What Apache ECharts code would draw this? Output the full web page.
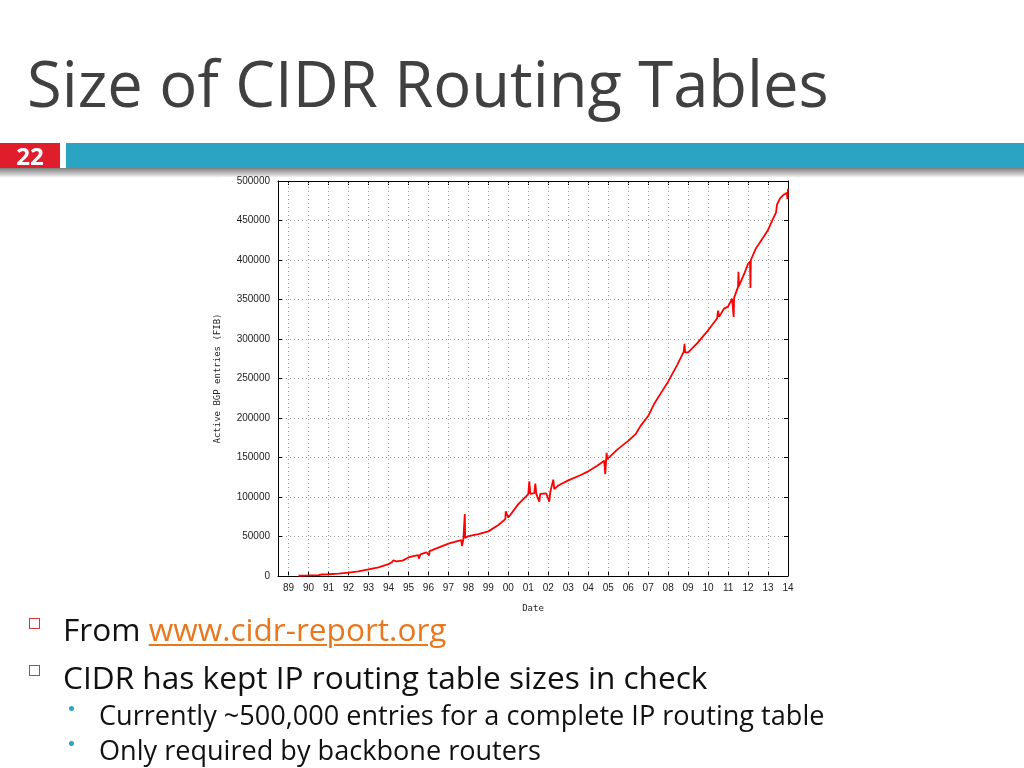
<!DOCTYPE html>
<html>
<head>
<meta charset="utf-8">
<script src="https://cdn.jsdelivr.net/npm/echarts@6/dist/echarts.min.js"></script>
<style>
  html, body { margin:0; padding:0; background:#fff; }
  #page { position:relative; width:1024px; height:768px; overflow:hidden; background:#fff; font-family:"Open Sans","Noto Sans",sans-serif; }
  #chart { position:absolute; left:0; top:0; width:1024px; height:768px; z-index:2; }
  .abs { position:absolute; white-space:nowrap; }
  #title { left:27px; top:51px; font-size:63.3px; line-height:63px; color:#404040; z-index:3; }
  #num { left:0; top:143px; width:60px; height:25px; background:#e01e2b; color:#fff; font-weight:bold; font-size:24px; line-height:26px; text-align:center; z-index:3; }
  #bar { left:66px; top:143px; width:958px; height:25px; background:#2ba3c2; z-index:3; }
  #shadow { left:0; top:168px; width:1024px; height:10px; background:linear-gradient(#7d7d7d,#c8c8c8 60%,#fff); z-index:1; }
  #imgbg { left:218px; top:177px; width:577px; height:436px; background:#fff; z-index:1; }
  .b1 { font-size:31.6px; line-height:31px; color:#111; z-index:3; }
  .b2 { font-size:27.1px; line-height:27px; color:#111; z-index:3; }
  .sq { width:9px; height:9px; border:1.6px solid #e0303a; z-index:3; }
  .dot { width:5px; height:5px; border-radius:50%; background:#2ba3c2; z-index:3; }
  a { color:#e8771e; text-decoration:underline; text-decoration-thickness:1.5px; text-underline-offset:3px; }
</style>
</head>
<body>
<div id="page">
  <div id="shadow" class="abs"></div>
  <div id="imgbg" class="abs"></div>
  <div id="chart"></div>
  <div id="title" class="abs">Size of CIDR Routing Tables</div>
  <div id="num" class="abs">22</div>
  <div id="bar" class="abs"></div>
  <div class="abs sq" style="left:29px;top:618px;"></div>
  <div class="abs b1" style="left:63px;top:613px;">From <a>www.cidr-report.org</a></div>
  <div class="abs sq" style="left:29px;top:665px;"></div>
  <div class="abs b1" style="left:63px;top:661px;">CIDR has kept IP routing table sizes in check</div>
  <div class="abs dot" style="left:69px;top:706px;"></div>
  <div class="abs b2" style="left:99px;top:701px;">Currently ~500,000 entries for a complete IP routing table</div>
  <div class="abs dot" style="left:69px;top:741px;"></div>
  <div class="abs b2" style="left:99px;top:736px;">Only required by backbone routers</div>
</div>
<script>
// Data
const dates = [1989.5,1990.0,1990.5,1990.65,1991.0,1991.5,1992.0,1992.5,1993.0,1993.5,1994.0,1994.15,1994.25,1994.4,1994.7,
  1995.0,1995.3,1995.5,1995.52,1995.6,1995.9,1996.0,1996.03,1996.06,1996.5,1997.0,1997.5,1997.65,1997.68,1997.75,1997.8,1997.82,1997.84,1998.0,1998.5,1999.0,1999.5,
  1999.85,1999.87,2000.0,2000.5,2000.9,2001.0,2001.05,2001.1,2001.3,2001.35,2001.4,2001.55,2001.6,2001.9,2002.0,2002.05,2002.1,2002.25,2002.3,2002.5,
  2003.0,2003.6,2004.0,2004.45,2004.8,2004.85,2004.9,2004.92,2004.95,2005.0,2005.45,2006.0,2006.37,2006.62,2007.0,2007.28,2007.7,2008.0,2008.45,
  2008.78,2008.82,2008.85,2009.0,2009.45,2010.0,2010.45,2010.5,2010.55,2010.8,2011.0,2011.2,2011.28,2011.3,2011.5,2011.52,2011.54,2011.8,2012.0,2012.1,
  2012.12,2012.14,2012.4,2012.8,2013.0,2013.3,2013.4,2013.45,2013.6,2013.8,2013.95,2013.97,2014.0];
const entries = [300,700,1200,1900,2200,3000,4300,5800,8500,11000,15000,17000,19800,18500,19500,
  23500,25500,26500,22000,27500,30000,31000,26000,31500,36000,41000,44500,45500,38000,46500,48000,78500,48000,50500,53000,56500,64500,
  72000,82000,74000,91000,101000,104000,120000,104000,105000,117000,104000,94000,104000,104500,105500,94000,106000,122000,110000,114500,
  121000,127500,132500,139500,146000,129000,148000,156000,148000,150000,160000,171000,179500,190000,202500,217000,234000,246000,267000,
  284000,294000,283000,283000,294500,311000,326000,336000,328000,338500,341000,351000,328000,352000,366000,385000,367000,382000,395000,398000,
  364500,400000,415000,430000,438000,455000,460000,470000,478000,483000,485000,477000,490000];
const xTickYears = [1989,1990,1991,1992,1993,1994,1995,1996,1997,1998,1999,2000,2001,2002,2003,2004,2005,2006,2007,2008,2009,2010,2011,2012,2013,2014];
const xTickLabels = ['89','90','91','92','93','94','95','96','97','98','99','00','01','02','03','04','05','06','07','08','09','10','11','12','13','14'];

const chart = echarts.init(document.getElementById('chart'), null, {renderer:'canvas'});
const seriesData = dates.map((d,i) => [d, entries[i]]);
const gridStyle = { color:'#9a9a9a', width:1, type:[1,3] };
const tickFont = { fontFamily:'Liberation Sans, Arial, sans-serif', fontSize:10, color:'#222' };
const monoFont = { fontFamily:'DejaVu Sans Mono, monospace', fontSize:9, color:'#222' };
chart.setOption({
  animation:false,
  grid:{ left:278, right:236, top:181, bottom:192, containLabel:false },
  xAxis:[{
    type:'value', min:1988.47, max:2014, position:'bottom',
    name:'Date', nameLocation:'middle', nameGap:28, nameTextStyle:monoFont,
    axisLine:{ show:true, onZero:false, lineStyle:{ color:'#000', width:1 } },
    axisTick:{ show:true, inside:true, length:4, customValues:xTickYears, lineStyle:{ color:'#000' } },
    axisLabel:{ show:true, margin:7, customValues:xTickYears, ...tickFont,
      formatter:(v) => { const i = xTickYears.indexOf(Math.round(v)); return i >= 0 ? xTickLabels[i] : ''; } },
    splitLine:{ show:false }
  },{
    type:'value', min:1988.47, max:2014, position:'top',
    axisLine:{ show:true, onZero:false, lineStyle:{ color:'#000', width:1 } },
    axisTick:{ show:true, inside:true, length:4, customValues:xTickYears, lineStyle:{ color:'#000' } },
    axisLabel:{ show:false }, splitLine:{ show:false }
  }],
  yAxis:[{
    type:'value', min:0, max:500000, interval:50000, position:'left',
    name:'Active BGP entries (FIB)', nameLocation:'middle', nameRotate:90, nameGap:56, nameTextStyle:monoFont,
    axisLine:{ show:true, onZero:false, lineStyle:{ color:'#000', width:1 } },
    axisTick:{ show:true, inside:true, length:4, lineStyle:{ color:'#000' } },
    axisLabel:{ show:true, margin:8, ...tickFont, formatter:(v) => String(v) },
    splitLine:{ show:true, lineStyle:gridStyle }
  },{
    type:'value', min:0, max:500000, interval:50000, position:'right',
    axisLine:{ show:true, onZero:false, lineStyle:{ color:'#000', width:1 } },
    axisTick:{ show:true, inside:true, length:4, lineStyle:{ color:'#000' } },
    axisLabel:{ show:false }, splitLine:{ show:false }
  }],
  series:[{
    type:'line', xAxisIndex:0, yAxisIndex:0, data:seriesData, showSymbol:false, symbol:'none',
    lineStyle:{ color:'#ff0000', width:1.8 }, sampling:null, z:5,
    markLine:{
      silent:true, symbol:['none','none'], animation:false, z:1,
      label:{ show:false }, lineStyle:gridStyle,
      data: xTickYears.slice(0, -1).map(y => ({ xAxis:y }))
    }
  }]
});
</script>
</body>
</html>
